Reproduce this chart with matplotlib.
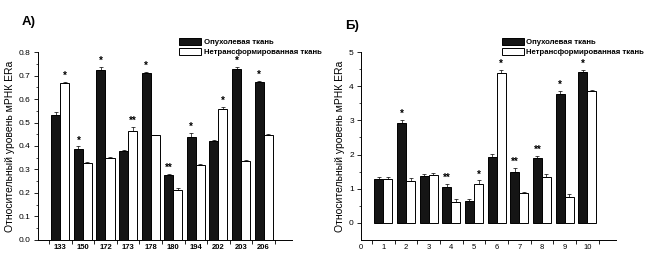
import numpy as np
import matplotlib
matplotlib.use("Agg")
import matplotlib.pyplot as plt
from matplotlib.patches import Patch

plt.rcParams['font.family'] = ['Liberation Sans', 'DejaVu Sans']

# Панель А
samples_a = ['133', '150', '172', '173', '178', '180', '194', '202', '203', '206']
tumor_a = [0.531, 0.388, 0.724, 0.377, 0.711, 0.277, 0.440, 0.421, 0.730, 0.671]
tumor_a_err = [0.012, 0.010, 0.015, 0.005, 0.006, 0.005, 0.015, 0.005, 0.008, 0.008]
normal_a = [0.667, 0.326, 0.349, 0.465, 0.445, 0.212, 0.319, 0.559, 0.337, 0.447]
normal_a_err = [0.006, 0.005, 0.005, 0.015, 0.004, 0.008, 0.005, 0.007, 0.003, 0.005]
stars_tumor_a = ['', '*', '*', '', '*', '**', '*', '', '*', '*']
stars_normal_a = ['*', '', '', '**', '', '', '', '*', '', '']

# Панель Б
samples_b = ['1', '2', '3', '4', '5', '6', '7', '8', '9', '10']
tumor_b = [1.27, 2.92, 1.38, 1.035, 0.635, 1.93, 1.50, 1.89, 3.77, 4.43]
tumor_b_err = [0.08, 0.10, 0.06, 0.10, 0.07, 0.08, 0.10, 0.08, 0.10, 0.06]
normal_b = [1.27, 1.23, 1.41, 0.60, 1.14, 4.38, 0.86, 1.35, 0.75, 3.86]
normal_b_err = [0.08, 0.07, 0.05, 0.10, 0.10, 0.10, 0.05, 0.08, 0.10, 0.04]
stars_tumor_b = ['', '*', '', '**', '', '', '**', '**', '*', '*']
stars_normal_b = ['', '', '', '', '*', '*', '', '', '', '']

legend_labels = ['Опухолевая ткань', 'Нетрансформированная ткань']
ylabel = 'Относительный уровень мРНК ERa'


def draw_panel(ax, tumor, tumor_err, normal, normal_err, st_t, st_n, ylim, star_off):
    x = np.arange(1, len(tumor) + 1)
    w = 0.4
    ax.bar(x - w / 2, tumor, w, color='#151515', edgecolor='black', linewidth=0.7)
    ax.bar(x + w / 2, normal, w, color='white', edgecolor='black', linewidth=0.7)
    z = np.zeros(len(x))
    ax.errorbar(x - w / 2, tumor, yerr=[z, tumor_err], fmt='none', ecolor='black',
                elinewidth=0.5, capsize=1.5, capthick=0.5)
    ax.errorbar(x + w / 2, normal, yerr=[z, normal_err], fmt='none', ecolor='black',
                elinewidth=0.5, capsize=1.5, capthick=0.5)
    for i in range(len(x)):
        if st_t[i]:
            ax.text(x[i] - w / 2, tumor[i] + tumor_err[i] + star_off, st_t[i],
                    ha='center', va='bottom', fontsize=7, fontweight='bold')
        if st_n[i]:
            ax.text(x[i] + w / 2, normal[i] + normal_err[i] + star_off, st_n[i],
                    ha='center', va='bottom', fontsize=7, fontweight='bold')
    ax.set_xlim(0, 11.25)
    ax.set_ylim(*ylim)
    ax.spines['top'].set_visible(False)
    ax.spines['right'].set_visible(False)
    ax.spines['left'].set_linewidth(0.7)
    ax.spines['bottom'].set_linewidth(0.7)
    ax.set_xticks(np.arange(0.5, 11.5, 1.0), minor=True)
    ax.tick_params(axis='x', which='major', length=0, labelsize=5.5, pad=3)
    ax.tick_params(axis='x', which='minor', length=3, width=0.6, direction='out')
    ax.tick_params(axis='y', which='major', length=3, width=0.6, labelsize=6, pad=2)
    ax.tick_params(axis='y', which='minor', length=1.5, width=0.5)
    ax.set_ylabel(ylabel, fontsize=7.5, labelpad=3)


fig = plt.figure(figsize=(6.5, 2.64), dpi=100)
ax1 = fig.add_axes([0.058, 0.092, 0.391, 0.71])
ax2 = fig.add_axes([0.555, 0.092, 0.392, 0.71])

draw_panel(ax1, tumor_a, tumor_a_err, normal_a, normal_a_err,
           stars_tumor_a, stars_normal_a, (0, 0.8), 0.004)
ax1.set_xticks(np.arange(1, 11))
ax1.set_xticklabels(samples_a, fontweight='bold')
ax1.set_yticks(np.arange(0, 0.81, 0.1))
ax1.set_yticklabels(['%.1f' % v for v in np.arange(0, 0.81, 0.1)])
ax1.set_yticks(np.arange(0.05, 0.8, 0.1), minor=True)

draw_panel(ax2, tumor_b, tumor_b_err, normal_b, normal_b_err,
           stars_tumor_b, stars_normal_b, (-0.5, 5), 0.03)
ax2.set_xticks(np.arange(0, 11))
ax2.set_xticklabels(['0'] + samples_b)
ax2.set_yticks(np.arange(0, 6))
ax2.set_yticks(np.arange(0.5, 5, 1.0), minor=True)

handles = [Patch(facecolor='#151515', edgecolor='black', linewidth=0.7),
           Patch(facecolor='white', edgecolor='black', linewidth=0.7)]
for xa in (0.276, 0.772):
    fig.legend(handles, legend_labels, loc='upper left', bbox_to_anchor=(xa, 0.855),
               frameon=False, handlelength=2.8, handleheight=0.9,
               handletextpad=0.3, labelspacing=0.25, borderaxespad=0,
               borderpad=0, prop={'weight': 'bold', 'size': 5.6})

fig.text(0.034, 0.915, 'А)', fontsize=9.5, fontweight='bold', va='center')
fig.text(0.531, 0.9, 'Б)', fontsize=9.5, fontweight='bold', va='center')

fig.savefig('out.png', dpi=100)
